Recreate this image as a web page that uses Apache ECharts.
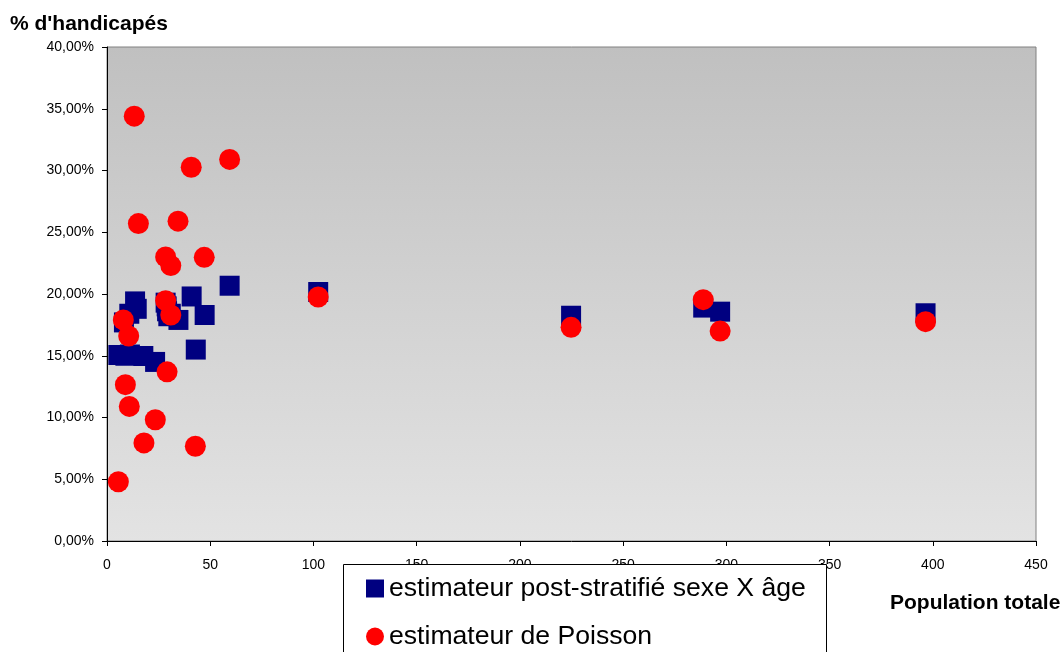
<!DOCTYPE html>
<html><head><meta charset="utf-8">
<script src="https://cdn.jsdelivr.net/npm/echarts@6/dist/echarts.min.js"></script>
<style>html,body{margin:0;padding:0;background:#fff}#c{width:1064px;height:652px}</style>
</head><body><div id="c"></div>
<script>
// Post-stratified estimator (sexe X âge): population totale, % handicapés
const postX = [5.5, 8.2, 8.9, 10.8, 11.1, 13.6, 14.4, 17.6, 23.3, 28.4, 28.9, 29.1, 29.7, 30.9, 34.6, 41.0, 43.0, 47.3, 59.4, 102.3, 224.8, 288.8, 297.0, 396.5];
const postY = [15.06, 17.7, 15.0, 18.4, 15.1, 19.4, 18.8, 14.98, 14.5, 19.3, 19.0, 18.6, 18.2, 18.4, 17.9, 19.8, 15.5, 18.3, 20.67, 20.16, 18.24, 18.9, 18.57, 18.44];
// Poisson estimator
const poisX = [5.5, 7.9, 8.9, 10.5, 10.8, 13.2, 15.2, 17.9, 23.4, 28.4, 28.4, 29.1, 30.9, 30.9, 34.4, 40.8, 42.8, 47.1, 59.4, 102.3, 224.8, 288.8, 297.0, 396.5];
const poisY = [4.8, 17.9, 12.66, 16.6, 10.9, 34.4, 25.7, 7.94, 9.82, 23.0, 19.46, 13.7, 22.3, 18.3, 25.9, 30.26, 7.67, 22.97, 30.9, 19.76, 17.3, 19.54, 17.0, 17.76];
const seriesNames = ["estimateur post-stratifié sexe X âge", "estimateur de Poisson"];
const yTitle = "% d'handicapés";
const xTitle = "Population totale";

const font = "'Liberation Sans', Arial, sans-serif";
const chart = echarts.init(document.getElementById('c'));
chart.setOption({
  animation: false,
  backgroundColor: '#fff',
  grid: {
    left: 107, right: 28, top: 47, bottom: 111, show: true,
    borderColor: '#808080', borderWidth: 1,
    backgroundColor: new echarts.graphic.LinearGradient(0, 0, 0, 1, [
      {offset: 0, color: '#c0c0c0'}, {offset: 1, color: '#e3e3e3'}])
  },
  xAxis: {
    type: 'value', min: 0, max: 450, interval: 50,
    axisLine: {show: true, lineStyle: {color: '#000', width: 1}},
    axisTick: {show: true, inside: false, length: 5, lineStyle: {color: '#000'}},
    splitLine: {show: false},
    axisLabel: {color: '#000', fontSize: 14, fontFamily: font, margin: 17}
  },
  yAxis: {
    type: 'value', min: 0, max: 40, interval: 5,
    axisLine: {show: true, lineStyle: {color: '#000', width: 1}},
    axisTick: {show: true, inside: false, length: 5, lineStyle: {color: '#000'}},
    splitLine: {show: false},
    axisLabel: {color: '#000', fontSize: 14, fontFamily: font, margin: 13,
      formatter: v => v.toFixed(2).replace('.', ',') + '%'}
  },
  legend: {
    orient: 'vertical', left: 343, top: 564, z: 10,
    padding: [11, 10, 0, 23], itemGap: 21, itemWidth: 18, itemHeight: 18,
    textStyle: {fontSize: 26.6, fontFamily: font, color: '#000'},
    data: [{name: seriesNames[0], icon: 'rect'}, {name: seriesNames[1], icon: 'circle'}]
  },
  graphic: [
    {type: 'rect', z: 1, shape: {x: 343.5, y: 564.5, width: 483, height: 120},
     style: {fill: '#fff', stroke: '#000', lineWidth: 1}},
    {type: 'text', z: 1, style: {x: 10, y: 24, text: yTitle, font: 'bold 21px ' + font, fill: '#000', verticalAlign: 'middle'}},
    {type: 'text', z: 1, style: {x: 890, y: 603, text: xTitle, font: 'bold 21px ' + font, fill: '#000', verticalAlign: 'middle'}}
  ],
  series: [
    {name: seriesNames[0], type: 'scatter', symbol: 'rect', symbolSize: 20,
     itemStyle: {color: '#000080', opacity: 1}, z: 2,
     data: postX.map((x, i) => [x, postY[i]])},
    {name: seriesNames[1], type: 'scatter', symbol: 'circle', symbolSize: 21,
     itemStyle: {color: '#ff0000', opacity: 1}, z: 3,
     data: poisX.map((x, i) => [x, poisY[i]])}
  ]
});
</script></body></html>
